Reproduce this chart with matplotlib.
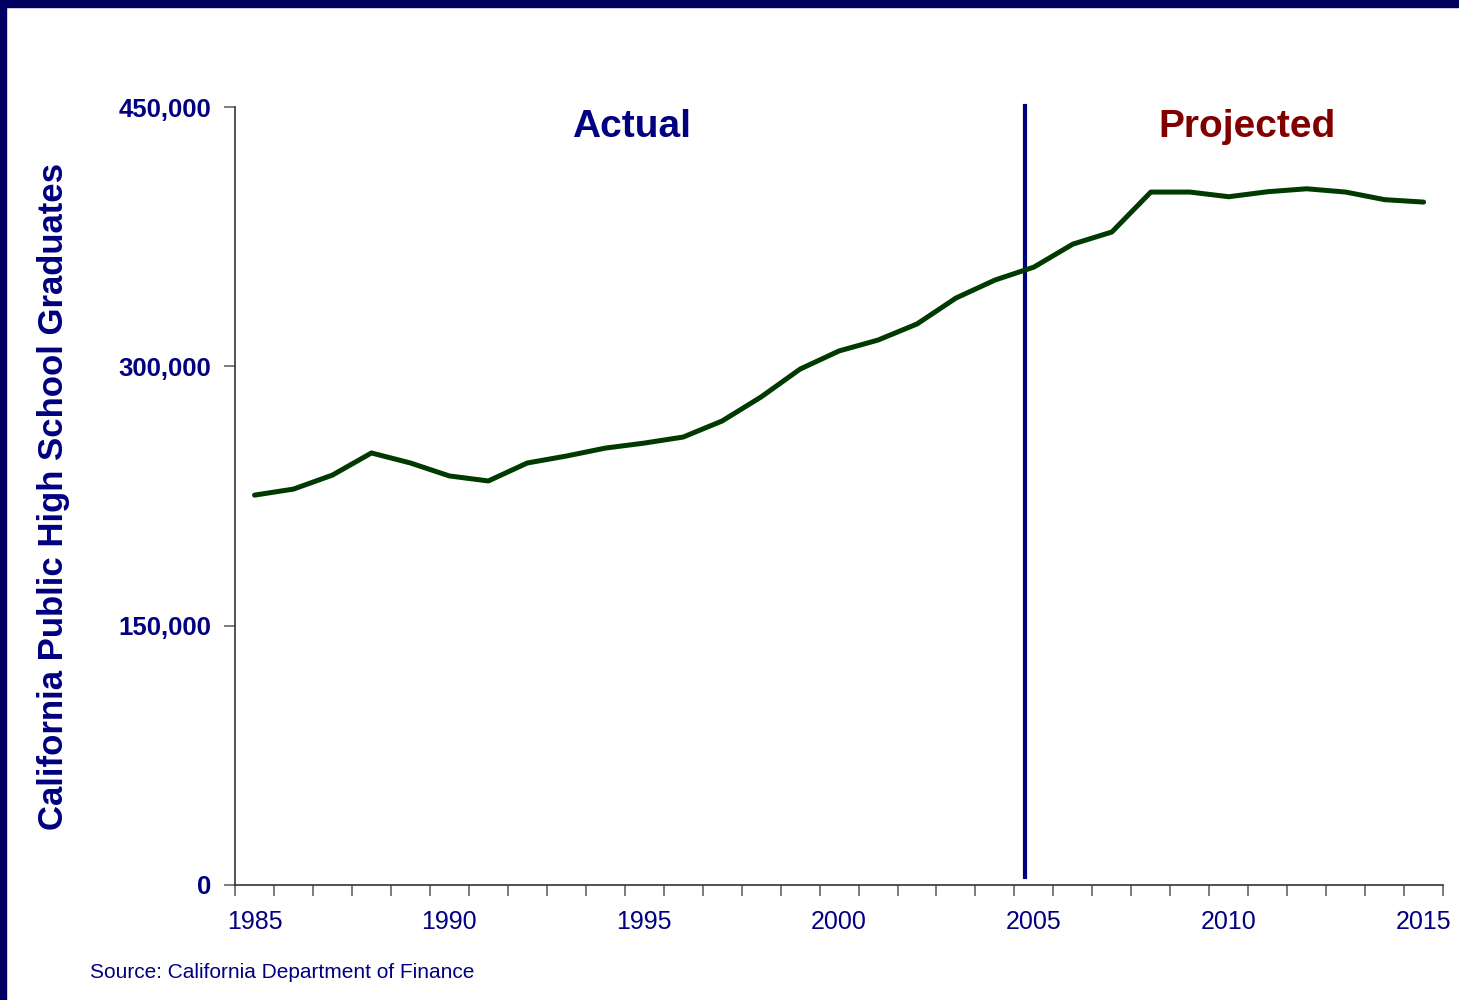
import matplotlib.pyplot as plt
from matplotlib.patches import Rectangle
from matplotlib.ticker import FixedLocator, FuncFormatter

plt.rcParams['font.family'] = ['Liberation Sans', 'DejaVu Sans']

# data
years = list(range(1985, 2016))
graduates = [225500, 229000, 237100, 249900, 244100, 236600, 233700, 244100,
             248100, 252700, 255600, 259100, 268400, 282300, 298400, 308900,
             315200, 324500, 339500, 349900, 357400, 370700, 377700, 400800,
             400800, 398100, 401000, 402700, 400800, 396400, 395000]
year_labels = [1985, 1990, 1995, 2000, 2005, 2010, 2015]
y_ticks = [0, 150000, 300000, 450000]
split_year = 2004.78

navy = '#000080'
fig = plt.figure(figsize=(14.59, 10), dpi=100)
fig.patch.set_facecolor('white')

# dark frame along top and left edges
fig.patches.append(Rectangle((0, 0.993), 1, 0.007, transform=fig.transFigure,
                             color='#000060', zorder=0))
fig.patches.append(Rectangle((0, 0), 0.0041, 1, transform=fig.transFigure,
                             color='#000060', zorder=0))

ax = fig.add_axes([0.1611, 0.115, 0.828, 0.778])
ax.plot(years, graduates, color='#003a00', lw=3.6, solid_joinstyle='round',
        solid_capstyle='round', zorder=3)
ax.plot([split_year, split_year], [4600, 450500], color=navy, lw=3, zorder=2,
        clip_on=False)

ax.set_xlim(1984.5, 2015.5)
ax.set_ylim(0, 450000)

ax.spines['top'].set_visible(False)
ax.spines['right'].set_visible(False)
for s in ('left', 'bottom'):
    ax.spines[s].set_color('#333333')
    ax.spines[s].set_linewidth(1.2)

ax.set_yticks(y_ticks)
ax.yaxis.set_major_formatter(FuncFormatter(lambda v, p: f'{int(v):,}'))
ax.tick_params(axis='y', length=8, width=1.2, color='#666666', pad=9,
               labelsize=18.5, labelcolor=navy)
for t in ax.get_yticklabels():
    t.set_fontweight('bold')

# x ticks at category boundaries, labels at centres
ax.xaxis.set_major_locator(FixedLocator(year_labels))
ax.xaxis.set_minor_locator(FixedLocator([y - 0.5 for y in years] + [2015.5]))
ax.tick_params(axis='x', which='major', length=0, pad=18, labelsize=18, labelcolor=navy)
ax.tick_params(axis='x', which='minor', length=8, width=1.2, color='#666666')

ax.set_ylabel('California Public High School Graduates', fontsize=25,
              fontweight='bold', color=navy)
ax.yaxis.set_label_coords(-0.137, 0.5)

ax.text(split_year - 10.1, 432600, 'Actual', ha='center', va='baseline',
        fontsize=28, fontweight='bold', color=navy)
ax.text(split_year + 5.68, 432600, 'Projected', ha='center', va='baseline',
        fontsize=28, fontweight='bold', color='#800000')

fig.text(0.0617, 0.028, 'Source: California Department of Finance', fontsize=15,
         color=navy, ha='left', va='center')

fig.savefig('out.png', dpi=100)
